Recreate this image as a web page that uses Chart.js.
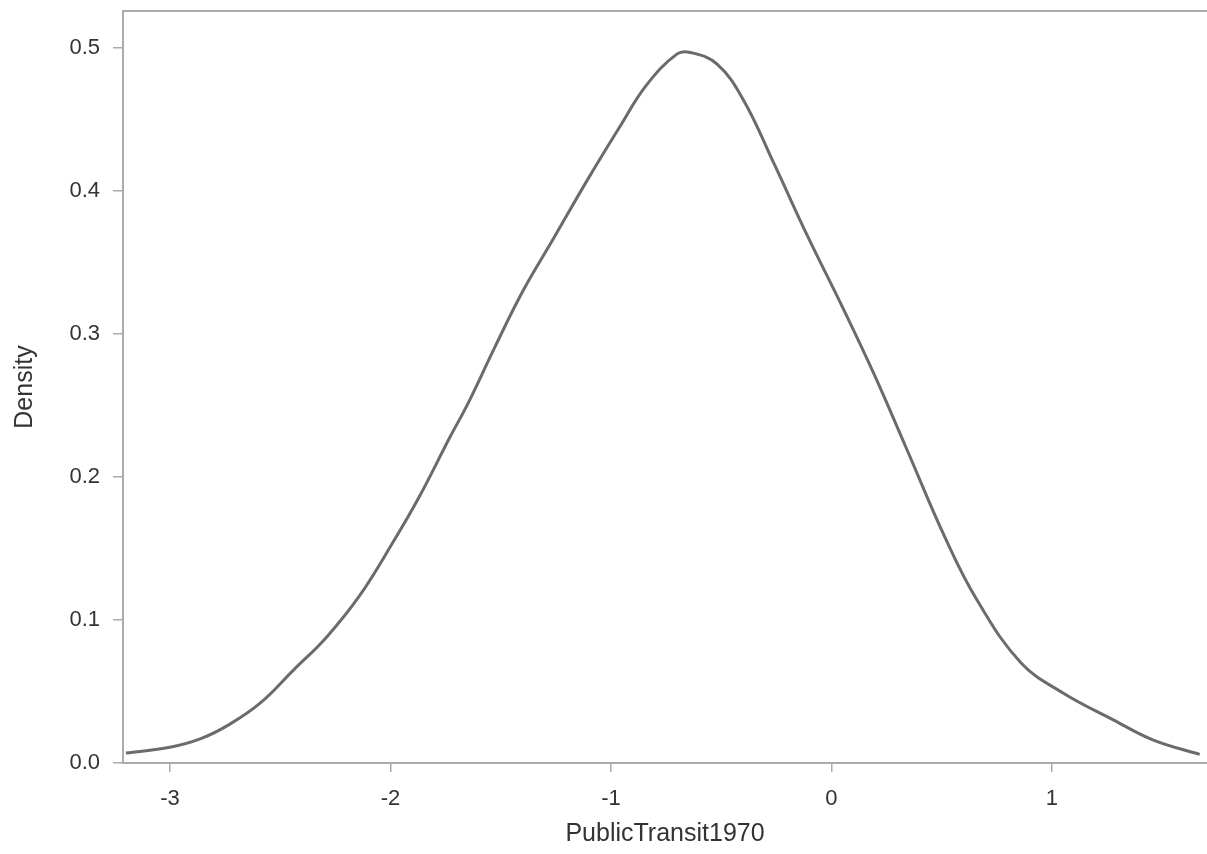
<html lang="en">
<head>
  <meta charset="UTF-8">
  <title>PublicTransit1970 density</title>
  <script src="https://cdn.jsdelivr.net/npm/chart.js"></script>
  <style>
    body { margin: 0; background: white; }
    #wrap { width: 1207px; height: 854px; }
  </style>
</head>
<body>
  <div id="wrap"><canvas id="densityChart" width="1207" height="854"></canvas></div>

  <script>
    // kernel density estimate, read off at these x positions
    const xVals = [-3.20, -3.00, -2.86, -2.73, -2.59, -2.44, -2.29, -2.14, -1.99, -1.87, -1.73, -1.65,
                   -1.52, -1.40, -1.26, -1.11, -0.96, -0.84, -0.70, -0.64, -0.52, -0.40, -0.26, -0.11,
                   0.04, 0.19, 0.34, 0.52, 0.66, 0.86, 1.05, 1.28, 1.46, 1.67];
    const densVals = [0.007, 0.011, 0.017, 0.027, 0.042, 0.065, 0.088, 0.117, 0.154, 0.186, 0.228, 0.251,
                      0.293, 0.330, 0.367, 0.407, 0.445, 0.474, 0.496, 0.497, 0.489, 0.464, 0.419, 0.369,
                      0.322, 0.273, 0.220, 0.156, 0.114, 0.070, 0.049, 0.030, 0.016, 0.006];
    const xTicks = [-3, -2, -1, 0, 1];
    const yTicks = [0, 0.1, 0.2, 0.3, 0.4, 0.5];

    const axisGrey = '#ababab';
    const textGrey = '#333333';

    // top edge of the plot frame
    const frameTop = {
      id: 'frameTop',
      afterDraw(chart) {
        const { ctx, chartArea } = chart;
        ctx.save();
        ctx.strokeStyle = axisGrey;
        ctx.lineWidth = 2;
        ctx.beginPath();
        ctx.moveTo(chartArea.left, chartArea.top);
        ctx.lineTo(chartArea.right, chartArea.top);
        ctx.stroke();
        ctx.restore();
      }
    };

    const points = xVals.map((x, i) => ({ x: x, y: densVals[i] }));

    new Chart(document.getElementById('densityChart'), {
      type: 'scatter',
      data: {
        datasets: [{
          data: points,
          showLine: true,
          borderColor: '#6b6b6b',
          borderWidth: 3,
          pointRadius: 0,
          tension: 0.4,
          fill: false
        }]
      },
      options: {
        responsive: false,
        animation: false,
        layout: { padding: { top: 11, right: 0, left: 0, bottom: 0 } },
        plugins: { legend: { display: false }, tooltip: { enabled: false } },
        scales: {
          x: {
            type: 'linear',
            min: -3.213,
            max: 1.703,
            afterBuildTicks: (scale) => { scale.ticks = xTicks.map(v => ({ value: v })); },
            afterFit: (scale) => { scale.height = 91; scale.paddingLeft = 0; scale.paddingRight = 0; },
            ticks: {
              color: textGrey,
              font: { family: 'Liberation Sans', size: 22 },
              padding: 14,
              callback: (v) => String(v)
            },
            grid: { display: true, drawOnChartArea: false, drawTicks: true, tickLength: 9, color: axisGrey, lineWidth: 1.5 },
            border: { display: true, color: axisGrey, width: 2 },
            title: {
              display: true,
              text: 'PublicTransit1970',
              color: textGrey,
              font: { family: 'Liberation Sans', size: 25 },
              padding: { top: 0, bottom: 5 }
            }
          },
          y: {
            type: 'linear',
            min: 0,
            max: 0.526,
            afterBuildTicks: (scale) => { scale.ticks = yTicks.map(v => ({ value: v })); },
            afterFit: (scale) => { scale.width = 123; scale.paddingTop = 0; scale.paddingBottom = 0; },
            ticks: {
              color: textGrey,
              font: { family: 'Liberation Sans', size: 22 },
              padding: 13,
              callback: (v) => v.toFixed(1)
            },
            grid: { display: true, drawOnChartArea: false, drawTicks: true, tickLength: 10, color: axisGrey, lineWidth: 1.5 },
            border: { display: true, color: axisGrey, width: 2 },
            title: {
              display: true,
              text: 'Density',
              color: textGrey,
              font: { family: 'Liberation Sans', size: 25 },
              padding: { top: 10, bottom: 0 }
            }
          }
        }
      },
      plugins: [frameTop]
    });
  </script>
</body>
</html>
